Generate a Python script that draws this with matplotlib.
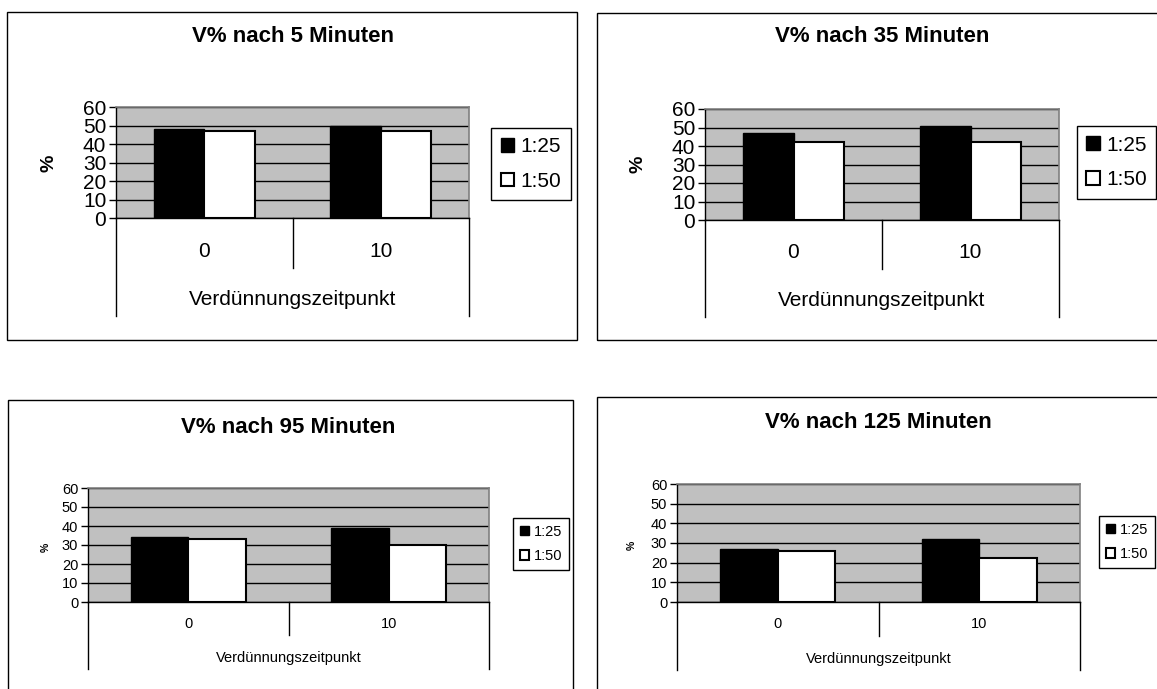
import matplotlib
matplotlib.use("Agg")
import matplotlib.pyplot as plt
from matplotlib.patches import Rectangle, Patch
import numpy as np

plt.rcParams['font.family'] = ['Liberation Sans', 'DejaVu Sans']

# ---- data ----
categories = ['0', '10']
series_names = ['1:25', '1:50']
titles = ['V% nach 5 Minuten', 'V% nach 35 Minuten',
          'V% nach 95 Minuten', 'V% nach 125 Minuten']
v5_125 = [48, 50]
v5_150 = [47, 47]
v35_125 = [47, 51]
v35_150 = [42, 42]
v95_125 = [34, 39]
v95_150 = [33, 30]
v125_125 = [27, 32]
v125_150 = [26, 22.5]
y_ticks = [0, 10, 20, 30, 40, 50, 60]
x_label = 'Verdünnungszeitpunkt'
y_label = '%'

W, H = 1157, 689
fig = plt.figure(figsize=(W / 100, H / 100), dpi=100)
fig.patch.set_facecolor('white')

# layout in pixels
panels = [
    dict(frame=(7, 12, 577, 340), plot=(116, 107, 469, 218), legend=(493, 126, 569, 202),
         title_y=37, title_fs=16, tick_fs=15, lab_fs=15, leg_fs=15, ylab_fs=14,
         ylab_x=49, ylab_y=163,
         cat_y=252, xlab_y=300, div_bot=268, out_bot=316, tick_len=5,
         d125=v5_125, d150=v5_150, title=titles[0]),
    dict(frame=(597, 13, 1170, 340), plot=(705, 109, 1059, 220), legend=(1078, 125, 1155, 200),
         title_y=37, title_fs=16, tick_fs=15, lab_fs=15, leg_fs=15, ylab_fs=14,
         ylab_x=638, ylab_y=164,
         cat_y=252, xlab_y=300, div_bot=269, out_bot=317, tick_len=5,
         d125=v35_125, d150=v35_150, title=titles[1]),
    dict(frame=(8, 400, 573, 700), plot=(88, 488, 489, 602), legend=(510, 518, 572, 570),
         title_y=427, title_fs=16, tick_fs=10.5, lab_fs=10.5, leg_fs=10.5, ylab_fs=7.5,
         ylab_x=46, ylab_y=547,
         cat_y=624, xlab_y=658, div_bot=635, out_bot=669, tick_len=5,
         d125=v95_125, d150=v95_150, title=titles[2]),
    dict(frame=(597, 397, 1170, 700), plot=(677, 484, 1080, 602), legend=(1099, 516, 1155, 568),
         title_y=422, title_fs=16, tick_fs=10.5, lab_fs=10.5, leg_fs=10.5, ylab_fs=7.5,
         ylab_x=632, ylab_y=545,
         cat_y=624, xlab_y=659, div_bot=636, out_bot=670, tick_len=5,
         d125=v125_125, d150=v125_150, title=titles[3]),
]

def fx(x):
    return x / W

def fy(y):
    return 1 - y / H

bar_w = 1 / 3.5
xc = np.arange(len(categories)) + 0.5

for p in panels:
    x0, y0, x1, y1 = p['frame']
    fig.add_artist(Rectangle((fx(x0), fy(y1)), (x1 - x0) / W, (y1 - y0) / H,
                             transform=fig.transFigure, fill=False, ec='black', lw=1.0))
    px0, py0, px1, py1 = p['plot']
    ax = fig.add_axes([fx(px0), fy(py1), (px1 - px0) / W, (py1 - py0) / H])
    ax.set_facecolor('#C0C0C0')
    ax.set_xlim(0, len(categories))
    ax.set_ylim(0, 60)
    ax.set_yticks(y_ticks)
    ax.set_yticklabels([str(t) for t in y_ticks], fontsize=p['tick_fs'])
    ax.set_xticks([])
    ax.yaxis.grid(True, color='black', lw=1.0)
    ax.set_axisbelow(True)
    ax.tick_params(axis='y', direction='out', length=p['tick_len'], width=1, pad=2)
    for s in ['left', 'bottom']:
        ax.spines[s].set_color('black')
        ax.spines[s].set_linewidth(1.0)
    for s in ['top', 'right']:
        ax.spines[s].set_color('#808080')
        ax.spines[s].set_linewidth(1.2)

    ax.bar(xc - bar_w / 2, p['d125'], width=bar_w, color='black', edgecolor='black',
           lw=1.0, label=series_names[0], zorder=3)
    ax.bar(xc + bar_w / 2, p['d150'], width=bar_w, color='white', edgecolor='black',
           lw=1.5, label=series_names[1], zorder=3)

    ph = py1 - py0
    trans = ax.get_xaxis_transform()

    def frac(ypx):
        return (py1 - ypx) / ph

    for xv in range(len(categories) + 1):
        bot = p['out_bot'] if xv in (0, len(categories)) else p['div_bot']
        ax.plot([xv, xv], [0, frac(bot)], transform=trans, color='black', lw=1.0,
                clip_on=False, zorder=4)
    for xv, c in zip(xc, categories):
        ax.text(xv, frac(p['cat_y']), c, transform=trans, ha='center', va='center',
                fontsize=p['lab_fs'])
    ax.text(len(categories) / 2, frac(p['xlab_y']), x_label, transform=trans,
            ha='center', va='center', fontsize=p['lab_fs'])
    fig.text(fx(p['ylab_x']), fy(p['ylab_y']), y_label,
             rotation=90, ha='center', va='center', fontsize=p['ylab_fs'], weight='bold')
    fig.text(fx((px0 + px1) / 2), fy(p['title_y']), p['title'], ha='center', va='center',
             fontsize=p['title_fs'], weight='bold')

    lx0, ly0, lx1, ly1 = p['legend']
    handles = [Patch(facecolor='black', edgecolor='black', lw=1.0),
               Patch(facecolor='white', edgecolor='black', lw=1.5)]
    leg = ax.legend(handles, series_names, loc='center',
                    bbox_to_anchor=(fx((lx0 + lx1) / 2), fy((ly0 + ly1) / 2)),
                    bbox_transform=fig.transFigure, fontsize=p['leg_fs'],
                    frameon=True, fancybox=False, shadow=False, framealpha=1,
                    edgecolor='black', handlelength=0.65, handleheight=0.65,
                    handletextpad=0.3, labelspacing=0.75, borderpad=0.45,
                    borderaxespad=0)
    leg.get_frame().set_linewidth(1.0)

fig.savefig('out.png', dpi=100, facecolor='white')
